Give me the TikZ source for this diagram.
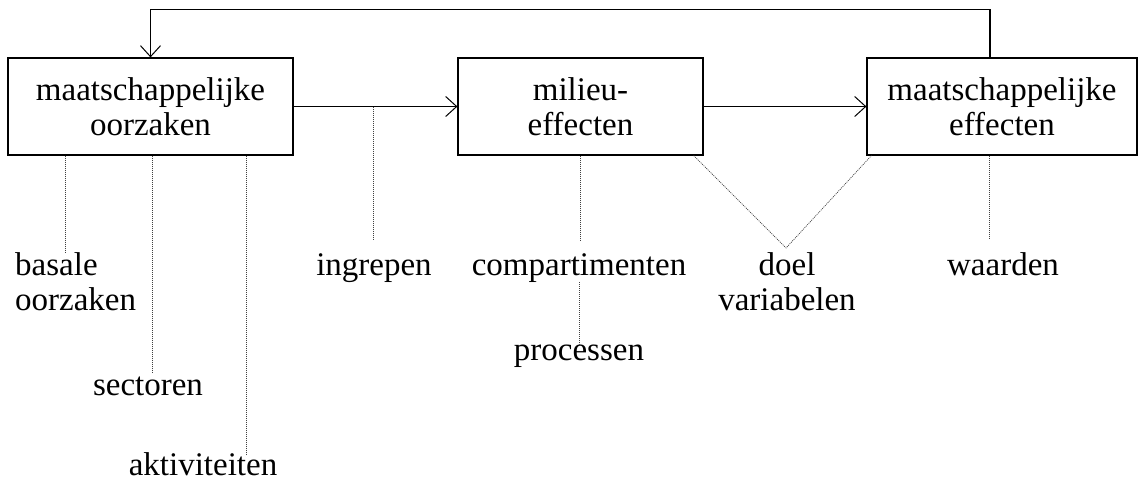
\documentclass[tikz,border=0pt]{standalone}
\usepackage{fontspec}
\setmainfont{Liberation Serif}
\usetikzlibrary{arrows.meta}
\begin{document}
\begin{tikzpicture}[x=1pt,y=-1pt,
  box/.style={draw, line width=1.2pt, minimum height=97pt, inner sep=0pt, align=center, font=\fontsize{33}{35}\selectfont},
  lbl/.style={inner sep=0pt, font=\fontsize{33}{35}\selectfont},
  arr/.style={line width=1.1pt, -{Straight Barb[length=11pt,width=20pt,line width=1pt]}},
  dot/.style={line width=0.7pt, black!75, dash pattern=on 1pt off 1pt}]
\useasboundingbox (0,0) rectangle (1140,485);
% boxes
\node[box, minimum width=285pt] (L) at (150.5,106.5) {maatschappelijke\\oorzaken};
\node[box, minimum width=245pt] (M) at (580.5,106.5) {milieu-\\effecten};
\node[box, minimum width=270pt] (R) at (1002,106.5) {maatschappelijke\\effecten};
% labels (multi-line nodes: base = last line)
\node[lbl, align=left, anchor=base west] (bas) at (15,310) {basale\\oorzaken};
\node[lbl, anchor=base] (sec) at (148,395) {sectoren};
\node[lbl, anchor=base] (akt) at (203,475) {aktiviteiten};
\node[lbl, anchor=base] (ing) at (374,275) {ingrepen};
\node[lbl, anchor=base] (comp) at (579,275) {compartimenten};
\node[lbl, anchor=base] (proc) at (579,360) {processen};
\node[lbl, align=center, anchor=base] (doel) at (787,310) {doel\\variabelen};
\node[lbl, anchor=base] (waa) at (1003,275) {waarden};
% end points of dotted connectors
\coordinate (b1) at (65,252);
\coordinate (s1) at (152,372);
\coordinate (a1) at (246,455);
\coordinate (i1) at (373,240);
\coordinate (c1) at (580,240);
\coordinate (v1) at (786,248);
\coordinate (w1) at (989,239);
% main arrows
\draw[arr] (L.east) -- (M.west);
\draw[arr] (M.east) -- (R.west);
\draw[arr] ([xshift=-12pt]R.north) -- ++(0,-48) -| (L.north);
% dotted connectors
\draw[dot] (L.south -| b1) -- (b1);
\draw[dot] (L.south -| s1) -- (s1);
\draw[dot] (L.south -| a1) -- (a1);
\draw[dot] (L.east -| i1) -- (i1);
\draw[dot] (M.south -| c1) -- (c1);
\draw[dot] (comp.south) -- (proc.north);
\draw[dot] ([xshift=-10pt]M.south east) -- (v1) -- ([xshift=5pt]R.south west);
\draw[dot] (R.south -| w1) -- (w1);
\end{tikzpicture}
\end{document}
